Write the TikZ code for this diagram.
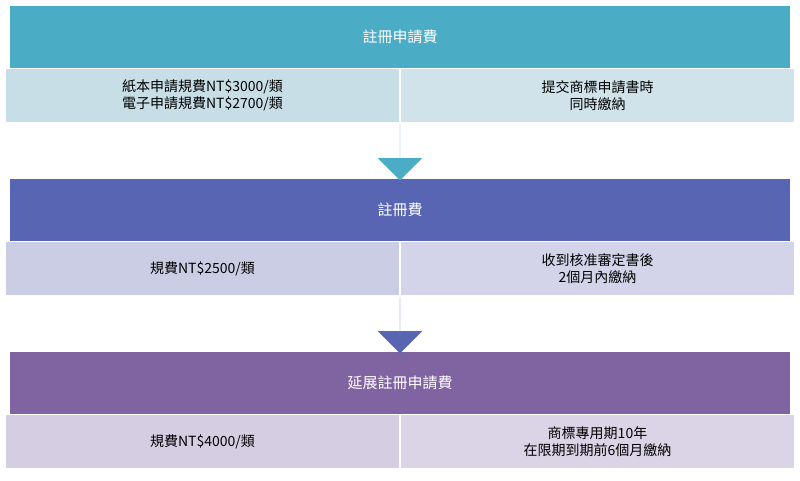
\documentclass[tikz,border=0pt]{standalone}
\usepackage{fontspec}
\setmainfont{Noto Sans CJK TC}
\usetikzlibrary{shapes,arrows}
\usetikzlibrary{arrows.meta,positioning}
\definecolor{tealhd}{HTML}{4BACC6}
\definecolor{tealcl}{HTML}{C8DEE6}
\definecolor{bluehd}{HTML}{5765B3}
\definecolor{bluecl}{HTML}{CBCDE5}
\definecolor{purphd}{HTML}{8063A1}
\definecolor{purpcl}{HTML}{D5CDE2}
\begin{document}
\begin{tikzpicture}[x=1pt, y=-1pt, node distance=0pt,
    header/.style = {rectangle, minimum height=62pt, minimum width=780pt, text=white, font=\fontsize{15}{18}\selectfont, inner sep=0pt},
    cell/.style = {rectangle, draw=white, line width=1pt, minimum height=54pt, minimum width=394pt, align=center, font=\fontsize{14}{17}\selectfont, inner sep=0pt},
    down/.style = {single arrow, single arrow head extend=22pt, shape border rotate=270, minimum width=36pt, minimum height=56pt, inner sep=0pt},]
    \useasboundingbox (0,0) rectangle (800,480);
    \node [header, fill=tealhd] (reg_app) at (400,37) {註冊申請費};
    \node [cell, fill=tealcl, below left=0pt and 0pt of reg_app.south] (reg_app_fee) {紙本申請規費NT\$3000/類\\電子申請規費NT\$2700/類};
    \node [cell, fill=tealcl!85!white, below right=0pt and 0pt of reg_app.south] (reg_app_when) {提交商標申請書時\\同時繳納};
    \node [header, fill=bluehd] (reg) at (400,210) {註冊費};
    \node [cell, fill=bluecl, below left=0pt and 0pt of reg.south] (reg_fee) {規費NT\$2500/類};
    \node [cell, fill=bluecl!85!white, below right=0pt and 0pt of reg.south] (reg_when) {收到核准審定書後\\2個月內繳納};
    \node [header, fill=purphd] (renew) at (400,383) {延展註冊申請費};
    \node [cell, fill=purpcl, below left=0pt and 0pt of renew.south] (renew_fee) {規費NT\$4000/類};
    \node [cell, fill=purpcl!85!white, below right=0pt and 0pt of renew.south] (renew_when) {商標專用期10年\\在限期到期前6個月繳納};
    \node [down, fill=tealhd, below=1pt of reg_app_fee.south east] (arrow_one) {};
    \node [down, fill=bluehd, below=1pt of reg_fee.south east] (arrow_two) {};
  \end{tikzpicture}
\end{document}
